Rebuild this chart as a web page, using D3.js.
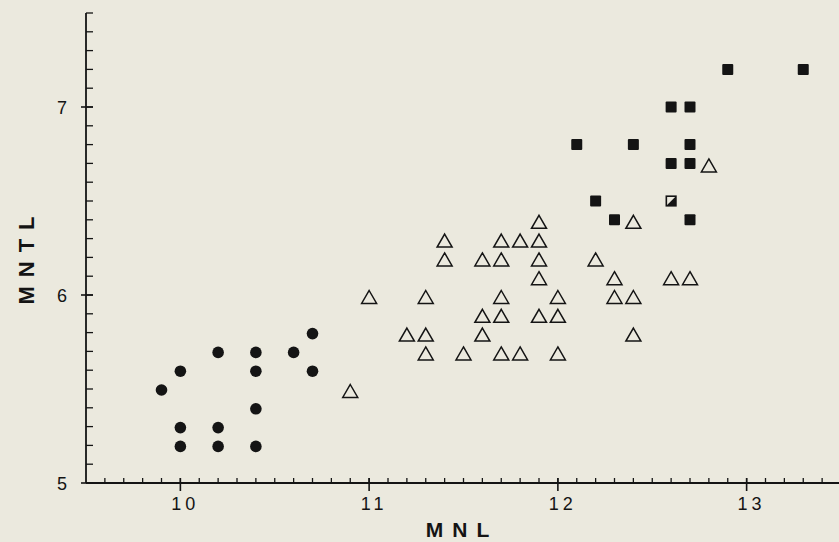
<!DOCTYPE html>
<html>
<head>
<meta charset="utf-8">
<script src="https://cdn.jsdelivr.net/npm/d3@7/dist/d3.min.js"></script>
<style>
  html, body { margin: 0; padding: 0; background: #ebe9de; }
  svg { display: block; }
</style>
</head>
<body>
<svg id="chart" width="839" height="542"></svg>
<script>
// ---- data (MNL, MNTL) ----
const circlesMNL  = [9.9, 10.0, 10.0, 10.0, 10.2, 10.2, 10.2, 10.4, 10.4, 10.4, 10.4, 10.6, 10.7, 10.7];
const circlesMNTL = [5.5, 5.6, 5.3, 5.2, 5.7, 5.3, 5.2, 5.7, 5.6, 5.4, 5.2, 5.7, 5.8, 5.6];

const trianglesMNL  = [10.9, 11.0, 11.2, 11.3, 11.3, 11.3, 11.4, 11.4, 11.5, 11.6, 11.6, 11.6,
                       11.7, 11.7, 11.7, 11.7, 11.7, 11.8, 11.8, 11.9, 11.9, 11.9, 11.9, 11.9,
                       12.0, 12.0, 12.0, 12.2, 12.3, 12.3, 12.4, 12.4, 12.4, 12.6, 12.7, 12.8];
const trianglesMNTL = [5.5, 6.0, 5.8, 6.0, 5.8, 5.7, 6.3, 6.2, 5.7, 6.2, 5.9, 5.8,
                       6.3, 6.2, 6.0, 5.9, 5.7, 6.3, 5.7, 6.4, 6.3, 6.2, 6.1, 5.9,
                       6.0, 5.9, 5.7, 6.2, 6.1, 6.0, 6.4, 6.0, 5.8, 6.1, 6.1, 6.7];

const squaresMNL  = [12.1, 12.2, 12.3, 12.4, 12.6, 12.6, 12.7, 12.7, 12.7, 12.7, 12.9, 13.3];
const squaresMNTL = [6.8, 6.5, 6.4, 6.8, 7.0, 6.7, 7.0, 6.8, 6.7, 6.4, 7.2, 7.2];

const halfSquareMNL  = [12.6];
const halfSquareMNTL = [6.5];

const xTickLabels = [10, 11, 12, 13];
const yTickLabels = [5, 6, 7];
const xTitle = "MNL";
const yTitle = "MNTL";

// ---- drawing ----
const svg = d3.select("#chart");
const ink = "#141414";
const bg = "#ebe9de";

const x = d3.scaleLinear().domain([9.5, 13.5]).range([86, 841]);
const y = d3.scaleLinear().domain([5, 7.5]).range([483, 13]);

svg.append("rect").attr("width", 839).attr("height", 542).attr("fill", bg);

const axes = svg.append("g").attr("stroke", ink).attr("fill", "none");

axes.append("line")
  .attr("x1", x(9.5)).attr("x2", 839)
  .attr("y1", y(5)).attr("y2", y(5))
  .attr("stroke-width", 1.8);
axes.append("line")
  .attr("x1", x(9.5)).attr("x2", x(9.5))
  .attr("y1", y(5)).attr("y2", y(7.5))
  .attr("stroke-width", 1.8);

const xMinor = d3.range(96, 135).map(d => d / 10);
axes.selectAll(".xminor").data(xMinor).join("line")
  .attr("x1", d => x(d)).attr("x2", d => x(d))
  .attr("y1", y(5)).attr("y2", y(5) - 5)
  .attr("stroke-width", 1.3);
axes.selectAll(".xmajor").data(xTickLabels).join("line")
  .attr("x1", d => x(d)).attr("x2", d => x(d))
  .attr("y1", y(5) - 5).attr("y2", y(5) + 8)
  .attr("stroke-width", 1.6);

const yMinor = d3.range(51, 76).map(d => d / 10);
axes.selectAll(".yminor").data(yMinor).join("line")
  .attr("x1", x(9.5)).attr("x2", x(9.5) + 7)
  .attr("y1", d => y(d)).attr("y2", d => y(d))
  .attr("stroke-width", 1.3);
axes.selectAll(".ymajor").data(yTickLabels).join("line")
  .attr("x1", x(9.5) - 5).attr("x2", x(9.5) + 7)
  .attr("y1", d => y(d)).attr("y2", d => y(d))
  .attr("stroke-width", 1.6);

const fontFam = "'Liberation Sans', 'DejaVu Sans', Arial, sans-serif";

svg.selectAll(".xlab").data(xTickLabels).join("text")
  .attr("x", d => x(d) + 5).attr("y", y(5) + 27)
  .attr("text-anchor", "middle")
  .attr("font-family", fontFam).attr("font-size", 18)
  .attr("letter-spacing", 4)
  .attr("fill", ink)
  .text(d => d);

svg.selectAll(".ylab").data(yTickLabels).join("text")
  .attr("x", 67).attr("y", d => y(d) + 7)
  .attr("text-anchor", "end")
  .attr("font-family", fontFam).attr("font-size", 18)
  .attr("fill", ink)
  .text(d => d);

svg.append("text")
  .attr("x", 462).attr("y", 537)
  .attr("text-anchor", "middle")
  .attr("font-family", fontFam).attr("font-size", 21).attr("font-weight", "bold")
  .attr("letter-spacing", 9)
  .attr("fill", ink)
  .text(xTitle);

svg.append("text")
  .attr("transform", "translate(34,256) rotate(-90)")
  .attr("text-anchor", "middle")
  .attr("font-family", fontFam).attr("font-size", 22).attr("font-weight", "bold")
  .attr("letter-spacing", 9)
  .attr("fill", ink)
  .text(yTitle);

const circ = circlesMNL.map((v, i) => [v, circlesMNTL[i]]);
svg.selectAll(".circ").data(circ).join("circle")
  .attr("cx", d => x(d[0])).attr("cy", d => y(d[1]) + 1)
  .attr("r", 5.8)
  .attr("fill", ink);

const tri = trianglesMNL.map((v, i) => [v, trianglesMNTL[i]]);
svg.selectAll(".tri").data(tri).join("path")
  .attr("d", d => {
    const cx = x(d[0]), cy = y(d[1]) + 2;
    return `M${cx},${cy - 6.5} L${cx + 7.5},${cy + 6.5} L${cx - 7.5},${cy + 6.5} Z`;
  })
  .attr("fill", "none")
  .attr("stroke", ink)
  .attr("stroke-width", 1.5);

const sq = squaresMNL.map((v, i) => [v, squaresMNTL[i]]);
svg.selectAll(".sq").data(sq).join("rect")
  .attr("x", d => x(d[0]) - 5.5).attr("y", d => y(d[1]) - 5.5)
  .attr("width", 11).attr("height", 11)
  .attr("rx", 1)
  .attr("fill", ink);

const hsq = halfSquareMNL.map((v, i) => [v, halfSquareMNTL[i]]);
const hg = svg.selectAll(".hsq").data(hsq).join("g")
  .attr("transform", d => `translate(${x(d[0])},${y(d[1])})`);
hg.append("rect")
  .attr("x", -4.8).attr("y", -4.8).attr("width", 9.6).attr("height", 9.6)
  .attr("fill", bg).attr("stroke", ink).attr("stroke-width", 1.6);
hg.append("path")
  .attr("d", "M-4.8,4.8 L4.8,-4.8 L4.8,4.8 Z")
  .attr("fill", ink);
</script>
</body>
</html>
